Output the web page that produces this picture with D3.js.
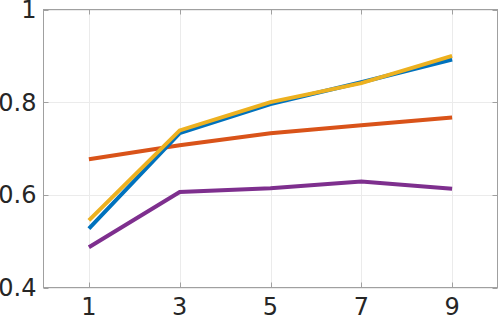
<!DOCTYPE html>
<html>
<head>
<meta charset="utf-8">
<script src="https://cdn.jsdelivr.net/npm/d3@7"></script>
<style>
  body { margin: 0; background: #fff; }
  text { font-family: "DejaVu Sans", sans-serif; fill: #262626; }
</style>
</head>
<body>
<svg width="498" height="316"></svg>
<script>
// data
var xs = [1, 3, 5, 7, 9];
var blue = [0.527, 0.733, 0.796, 0.843, 0.892];
var red = [0.677, 0.707, 0.733, 0.750, 0.767];
var yellow = [0.545, 0.739, 0.800, 0.841, 0.900];
var purple = [0.487, 0.606, 0.614, 0.629, 0.613];
var xTicks = [1, 3, 5, 7, 9];
var yTicks = [0.4, 0.6, 0.8, 1];

var series = [
    { vals: red, color: "#D95319" },
    { vals: blue, color: "#0072BD" },
    { vals: yellow, color: "#EDB120" },
    { vals: purple, color: "#7E2F8E" }
];

var L = 43.5, R = 497.5, T = 9.5, B = 287.5;
var svg = d3.select("svg");

var scX = d3.scaleLinear().domain([0, 10]).range([L, R]);
var scY = d3.scaleLinear().domain([0.4, 1]).range([B, T]);

// grid
var grid = svg.append("g").attr("stroke", "#ebebeb").attr("stroke-width", 1);
grid.selectAll(".gx").data(xTicks).enter().append("line")
    .attr("x1", d => Math.round(scX(d)) + 0.5).attr("x2", d => Math.round(scX(d)) + 0.5)
    .attr("y1", T).attr("y2", B);
grid.selectAll(".gy").data(yTicks).enter().append("line")
    .attr("y1", d => Math.round(scY(d)) + 0.5).attr("y2", d => Math.round(scY(d)) + 0.5)
    .attr("x1", L).attr("x2", R);

// box
svg.append("rect").attr("x", L).attr("y", T)
    .attr("width", R - L).attr("height", B - T)
    .attr("fill", "none").attr("stroke", "#a0a0a0");

// inward ticks
var tk = svg.append("g").attr("stroke", "#a0a0a0");
xTicks.forEach(function(d) {
    var x = Math.round(scX(d)) + 0.5;
    tk.append("line").attr("x1", x).attr("x2", x).attr("y1", B).attr("y2", B - 5);
    tk.append("line").attr("x1", x).attr("x2", x).attr("y1", T).attr("y2", T + 5);
});
yTicks.forEach(function(d) {
    var y = Math.round(scY(d)) + 0.5;
    tk.append("line").attr("y1", y).attr("y2", y).attr("x1", L).attr("x2", L + 5);
    tk.append("line").attr("y1", y).attr("y2", y).attr("x1", R).attr("x2", R - 5);
});

// labels
svg.append("g").selectAll("text").data(xTicks).enter().append("text")
    .attr("x", d => scX(d)).attr("y", B + 10).attr("dy", "0.71em")
    .attr("text-anchor", "middle").attr("font-size", 24)
    .text(d => d);
svg.append("g").selectAll("text").data(yTicks).enter().append("text")
    .attr("x", L - 7).attr("y", d => scY(d)).attr("dy", "0.36em")
    .attr("text-anchor", "end").attr("font-size", 24)
    .text(d => d);

// lines
var lineMaker = d3.line()
    .x((d, i) => scX(xs[i]))
    .y(d => scY(d));
svg.append("g").selectAll("path").data(series).enter().append("path")
    .attr("fill", "none")
    .attr("stroke", d => d.color)
    .attr("stroke-width", 4)
    .attr("d", d => lineMaker(d.vals));
</script>
</body>
</html>
